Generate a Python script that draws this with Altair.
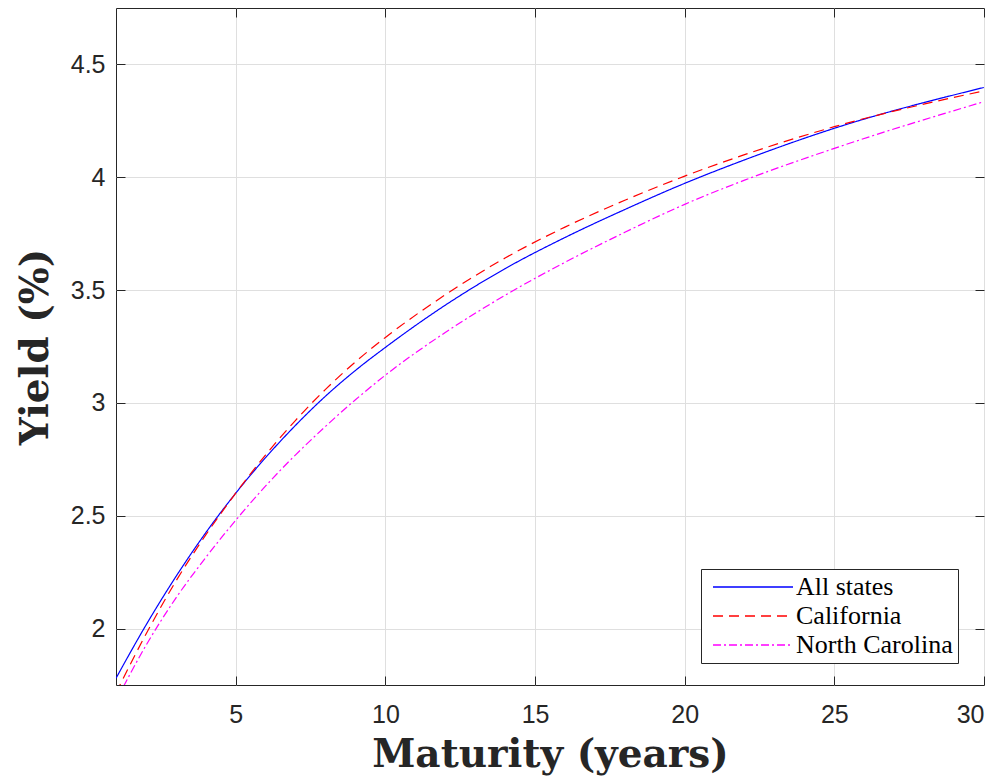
import altair as alt
import pandas as pd

# ---- data ----
maturity = [1, 2, 3, 4, 5, 6, 7, 8, 9, 10, 12, 14, 16, 18, 20, 22, 25, 30]
all_states = [1.78, 2.015, 2.23, 2.425, 2.60, 2.758, 2.901, 3.030, 3.144, 3.246,
              3.433, 3.595, 3.733, 3.857, 3.973, 4.077, 4.217, 4.398]
california = [1.715, 1.975, 2.21, 2.415, 2.60, 2.77, 2.923, 3.06, 3.182, 3.29,
              3.479, 3.642, 3.779, 3.898, 4.005, 4.100, 4.224, 4.383]
north_carolina = [1.68, 1.925, 2.135, 2.315, 2.48, 2.632, 2.770, 2.896, 3.014, 3.123,
                  3.312, 3.477, 3.623, 3.756, 3.880, 3.987, 4.128, 4.335]
series_names = ["All states", "California", "North Carolina"]
series_colors = ["#0000ff", "#ff0000", "#ff00ff"]
series_dashes = [[1, 0], [10, 6], [8, 3, 2, 3]]
x_ticks = [5, 10, 15, 20, 25, 30]
y_ticks = [2, 2.5, 3, 3.5, 4, 4.5]
x_domain = [1, 30]
y_domain = [1.75, 4.75]

rows = []
for name, vals in zip(series_names, [all_states, california, north_carolina]):
    for m, v in zip(maturity, vals):
        rows.append({"maturity": m, "yield": v, "series": name})
df = pd.DataFrame(rows)

W, H = 868, 677
AX = "#262626"

xs = alt.Scale(domain=x_domain, nice=False, zero=False)
ys = alt.Scale(domain=y_domain, nice=False, zero=False)

leg = alt.Legend(
    title=None, orient="none", legendX=585, legendY=561,
    symbolType="M0,0H16", symbolSize=100, symbolStrokeWidth=1.3,
    symbolOffset=-6,
    labelFont="Liberation Serif", labelFontSize=26, labelColor="black",
    labelOffset=70, strokeColor=AX, fillColor="white", padding=5,
    rowPadding=3, labelLimit=400,
)

base = alt.Chart(df)

lines = base.mark_line(clip=True, strokeWidth=1.2, interpolate="monotone").encode(
    x=alt.X("maturity:Q", scale=xs, axis=alt.Axis(
        values=x_ticks, format="d", title="Maturity (years)", grid=True,
        gridColor="#dfdfdf", ticks=False, tickSize=0, domain=False,
        labelFont="Liberation Sans", labelFontSize=25, labelColor=AX,
        labelPadding=17, titleFont="DejaVu Serif", titleFontWeight="bold",
        titleFontSize=39, titleColor=AX, titlePadding=8)),
    y=alt.Y("yield:Q", scale=ys, axis=alt.Axis(
        values=y_ticks, format="~g", title="Yield (%)", grid=True,
        gridColor="#dfdfdf", ticks=False, tickSize=0, domain=False,
        labelFont="Liberation Sans", labelFontSize=25, labelColor=AX,
        labelPadding=11, titleFont="DejaVu Serif", titleFontWeight="bold",
        titleFontSize=39, titleColor=AX, titlePadding=15)),
    color=alt.Color("series:N", scale=alt.Scale(domain=series_names, range=series_colors), legend=leg),
    strokeDash=alt.StrokeDash("series:N", scale=alt.Scale(domain=series_names, range=series_dashes), legend=leg),
)

tick_common = dict(labels=False, grid=False, domain=False, ticks=True,
                   tickSize=9, tickColor=AX, tickWidth=1, title=None)

ticks_in_a = base.mark_line(opacity=0, clip=True).encode(
    x=alt.X("maturity:Q", scale=xs, axis=alt.Axis(orient="top", offset=-H, values=x_ticks, **tick_common)),
    y=alt.Y("yield:Q", scale=ys, axis=alt.Axis(orient="right", offset=-W, values=y_ticks, **tick_common)),
)
ticks_in_b = base.mark_line(opacity=0, clip=True).encode(
    x=alt.X("maturity:Q", scale=xs, axis=alt.Axis(orient="bottom", offset=-H, values=x_ticks, **tick_common)),
    y=alt.Y("yield:Q", scale=ys, axis=alt.Axis(orient="left", offset=-W, values=y_ticks, **tick_common)),
)

chart = alt.layer(lines, ticks_in_a, ticks_in_b).resolve_axis(
    x="independent", y="independent"
).properties(
    width=W, height=H,
    autosize=alt.AutoSizeParams(type="none"),
    padding={"left": 108, "top": 0, "right": 7, "bottom": 95},
    background="white",
).configure_view(stroke=AX, strokeWidth=1)

chart.save("out.html", embed_options={"renderer": "svg", "actions": False})
